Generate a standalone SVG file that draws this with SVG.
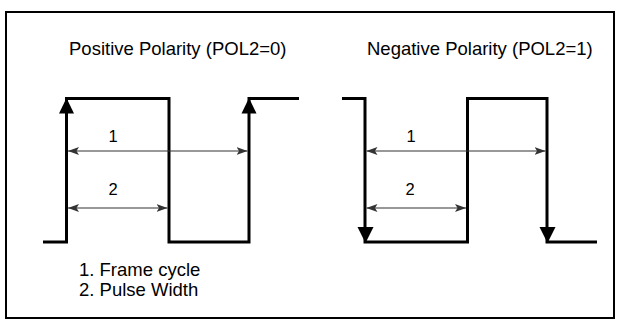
<svg xmlns="http://www.w3.org/2000/svg" width="621" height="329" viewBox="0 0 621 329">
<defs>
<style>
.wave{fill:none;stroke:#000;stroke-width:3;stroke-linejoin:miter;stroke-linecap:butt}
.dim{fill:none;stroke:#333;stroke-width:1.2}
.t{font-family:"Liberation Sans",Arial,sans-serif;font-size:18.5px;fill:#000}
.n{font-family:"Liberation Sans",Arial,sans-serif;font-size:16.5px;fill:#000}
.head{fill:#000}
</style>
<marker id="da" viewBox="0 0 11 8" refX="11" refY="4" markerWidth="11" markerHeight="8" markerUnits="userSpaceOnUse" orient="auto-start-reverse">
<path d="M0,0 L11,4 L0,8 L2.5,4 Z" fill="#333"/>
</marker>
</defs>
<rect x="6" y="12" width="608" height="306" fill="#fff" stroke="#000" stroke-width="2"/>
<g id="titles">
<text class="t" x="69" y="55">Positive Polarity (POL2=0)</text>
<text class="t" x="367" y="55">Negative Polarity (POL2=1)</text>
</g>
<g id="positive-wave">
<path class="wave" d="M43,242 H66.5 V98.5 H169 V242 H249 V98.5 H299"/>
<path class="head" d="M66.5,98 L74,113.5 L59,113.5 Z"/>
<path class="head" d="M249,98 L256.5,113.5 L241.5,113.5 Z"/>
</g>
<g id="negative-wave">
<path class="wave" d="M342,98.5 H365 V242 H467.5 V98.5 H547 V242 H597"/>
<path class="head" d="M365.5,243 L373.5,227 L357.5,227 Z"/>
<path class="head" d="M547.5,243 L555.5,227 L539.5,227 Z"/>
</g>
<g id="connectors">
<line class="dim" x1="68" y1="151" x2="247.5" y2="151" marker-start="url(#da)" marker-end="url(#da)"/>
<line class="dim" x1="68" y1="208" x2="167.5" y2="208" marker-start="url(#da)" marker-end="url(#da)"/>
<line class="dim" x1="366.5" y1="151" x2="545.5" y2="151" marker-start="url(#da)" marker-end="url(#da)"/>
<line class="dim" x1="366.5" y1="208" x2="466" y2="208" marker-start="url(#da)" marker-end="url(#da)"/>
</g>
<g id="labels">
<text class="n" x="113" y="142" text-anchor="middle">1</text>
<text class="n" x="113" y="195" text-anchor="middle">2</text>
<text class="n" x="411" y="142" text-anchor="middle">1</text>
<text class="n" x="410" y="195" text-anchor="middle">2</text>
</g>
<g id="legend">
<text class="t" x="79" y="276">1. Frame cycle</text>
<text class="t" x="79" y="296">2. Pulse Width</text>
</g>
</svg>
